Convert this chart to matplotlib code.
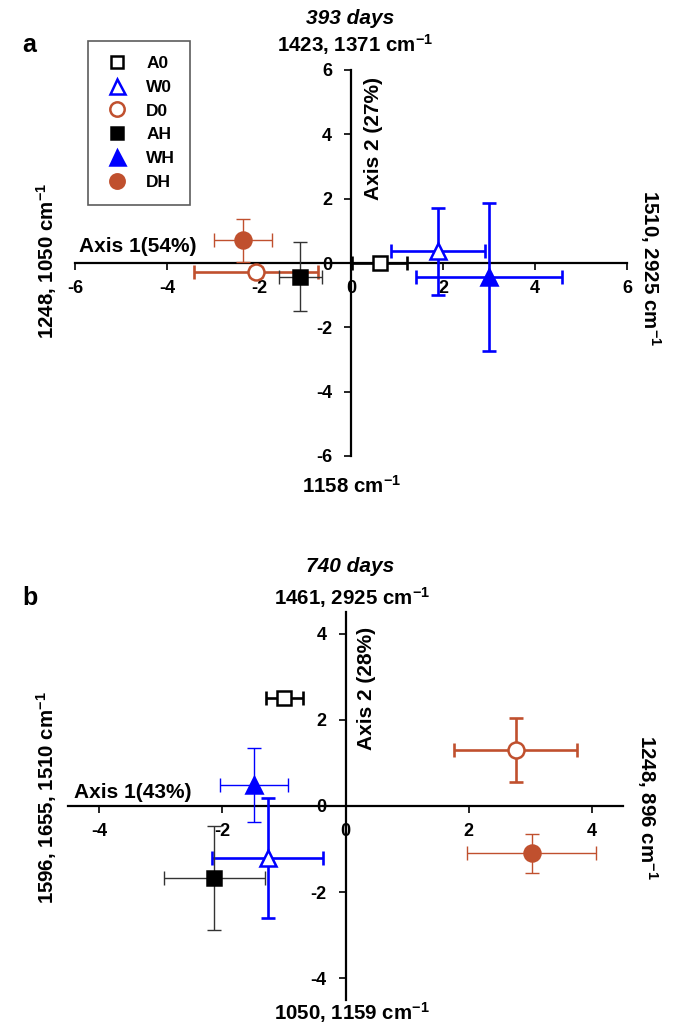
import numpy as np
import matplotlib
matplotlib.use('Agg')
import matplotlib.pyplot as plt
from matplotlib.lines import Line2D

plt.rcParams['font.family'] = ['Liberation Sans', 'DejaVu Sans']
plt.rcParams['font.weight'] = 'bold'
plt.rcParams['mathtext.fontset'] = 'custom'
plt.rcParams['mathtext.rm'] = 'Liberation Sans:bold'
plt.rcParams['mathtext.bf'] = 'Liberation Sans:bold'
plt.rcParams['mathtext.default'] = 'bf'

# groups
names = ['A0', 'W0', 'D0', 'AH', 'WH', 'DH']

# panel a, 393 days
a_x = [0.62, 1.90, -2.07, -1.10, 3.00, -2.35]
a_y = [0.00, 0.37, -0.28, -0.42, -0.45, 0.70]
a_xerr = [0.60, 1.02, 1.35, 0.47, 1.58, 0.63]
a_yerr = [0.05, 1.35, 0.15, 1.08, 2.30, 0.67]

# panel b, 740 days
b_x = [-0.99, -1.26, 2.76, -2.13, -1.49, 3.02]
b_y = [2.51, -1.20, 1.30, -1.67, 0.49, -1.10]
b_xerr = [0.30, 0.90, 1.00, 0.82, 0.55, 1.05]
b_yerr = [0.05, 1.39, 0.75, 1.20, 0.86, 0.45]

orange = '#C0502E'
markers = ['s', '^', 'o', 's', '^', 'o']
colors = ['black', 'blue', orange, 'black', 'blue', orange]
faces = ['white', 'white', 'white', 'black', 'blue', orange]
msizes = [10, 12, 11.5, 10, 12, 11.5]
# error bar width/colour per group and panel
a_thick = [True, True, True, False, True, False]
b_thick = [True, True, True, False, False, False]


def draw_panel(ax, xs, ys, xerrs, yerrs, thick, lim, ticks):
    ax.set_xlim(-lim, lim)
    ax.set_ylim(-lim, lim)
    for side in ['top', 'right']:
        ax.spines[side].set_visible(False)
    ax.spines['left'].set_position('zero')
    ax.spines['bottom'].set_position('zero')
    for side in ['left', 'bottom']:
        ax.spines[side].set_linewidth(1.6)
        ax.spines[side].set_zorder(1)
    ax.set_xticks(ticks)
    ax.set_yticks(ticks)
    ax.set_xticklabels(['%d' % t for t in ticks])
    ax.set_yticklabels(['%d' % t for t in ticks])
    ax.tick_params(axis='x', direction='out', length=5, width=1.2, pad=7.5, labelsize=13)
    ax.tick_params(axis='y', direction='out', length=5, width=1.2, pad=8.5, labelsize=13)
    for lab in ax.get_xticklabels() + ax.get_yticklabels():
        lab.set_fontweight('bold')
    for i in range(len(xs)):
        if thick[i]:
            ec, lw = colors[i], 1.9
        else:
            ec, lw = ('#333333' if colors[i] == 'black' else colors[i]), 1.0
        ax.errorbar(xs[i], ys[i], xerr=xerrs[i], yerr=yerrs[i], fmt='none',
                    ecolor=ec, elinewidth=lw, capsize=5, capthick=lw, zorder=3)
        ax.plot(xs[i], ys[i], linestyle='none', marker=markers[i], ms=msizes[i],
                mfc=faces[i], mec=colors[i], mew=1.8, zorder=4)


fig = plt.figure(figsize=(6.75, 10.25), dpi=100)

ax_a = fig.add_axes([75 / 675, 1 - 456 / 1025, 552 / 675, 386 / 1025])
draw_panel(ax_a, a_x, a_y, a_xerr, a_yerr, a_thick, 6, [-6, -4, -2, 0, 2, 4, 6])

ax_b = fig.add_axes([68 / 675, 1 - 1000 / 1025, 555 / 675, 388 / 1025])
draw_panel(ax_b, b_x, b_y, b_xerr, b_yerr, b_thick, 4.5, [-4, -2, 0, 2, 4])

lab = dict(fontsize=14.8, fontweight='bold', ha='center', va='center')
axlab = dict(fontsize=15, fontweight='bold', va='center')

# panel a texts
fig.text(22 / 675, 1 - 45 / 1025, 'a', fontsize=18, fontweight='bold', ha='left', va='center')
fig.text(350 / 675, 1 - 18 / 1025, '393 days', fontsize=15, fontweight='bold',
         style='italic', ha='center', va='center')
fig.text(355 / 675, 1 - 45 / 1025, '1423, 1371 cm$^{-1}$', **lab)
fig.text(352 / 675, 1 - 486 / 1025, '1158 cm$^{-1}$', **lab)
fig.text(47 / 675, 1 - 261 / 1025, '1248, 1050 cm$^{-1}$', rotation=90, **lab)
fig.text(650 / 675, 1 - 268 / 1025, '1510, 2925 cm$^{-1}$', rotation=-90, **lab)
fig.text(79 / 675, 1 - 246 / 1025, 'Axis 1(54%)', ha='left', **axlab)
fig.text(373 / 675, 1 - 139 / 1025, 'Axis 2 (27%)', rotation=90, ha='center', **axlab)

# panel b texts
fig.text(22 / 675, 1 - 598 / 1025, 'b', fontsize=18, fontweight='bold', ha='left', va='center')
fig.text(350 / 675, 1 - 566 / 1025, '740 days', fontsize=15, fontweight='bold',
         style='italic', ha='center', va='center')
fig.text(352 / 675, 1 - 598 / 1025, '1461, 2925 cm$^{-1}$', **lab)
fig.text(352 / 675, 1 - 1013 / 1025, '1050, 1159 cm$^{-1}$', **lab)
fig.text(47 / 675, 1 - 798 / 1025, '1596, 1655, 1510 cm$^{-1}$', rotation=90, **lab)
fig.text(647 / 675, 1 - 807 / 1025, '1248, 896 cm$^{-1}$', rotation=-90, **lab)
fig.text(74 / 675, 1 - 792 / 1025, 'Axis 1(43%)', ha='left', **axlab)
fig.text(366 / 675, 1 - 688 / 1025, 'Axis 2 (28%)', rotation=90, ha='center', **axlab)

# legend
handles = [Line2D([], [], linestyle='none', marker=markers[i], ms=msizes[i] * 0.9,
                  mfc=faces[i], mec=colors[i], mew=1.8) for i in range(len(names))]
leg = fig.legend(handles, names, loc='upper left',
                 bbox_to_anchor=(88 / 675, 1 - 41 / 1025), borderaxespad=0,
                 frameon=True, fancybox=False, edgecolor='#333333',
                 prop={'weight': 'bold', 'size': 12.5}, labelspacing=0.5,
                 handletextpad=0.9, borderpad=0.85, handlelength=1.6)
leg.get_frame().set_linewidth(1.2)

fig.savefig('out.png', dpi=100)
